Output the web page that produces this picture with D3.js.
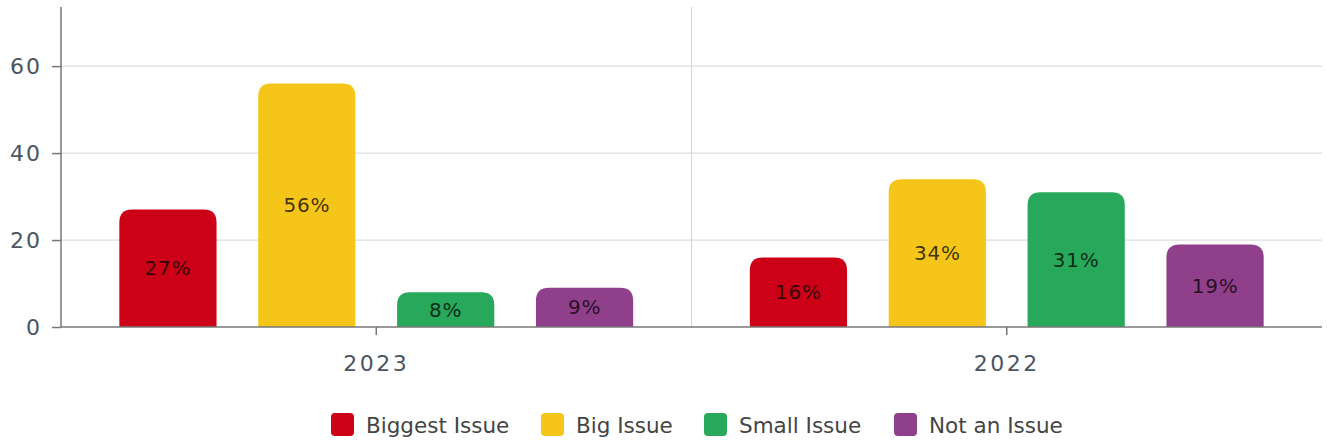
<!DOCTYPE html>
<html>
<head>
<meta charset="utf-8">
<script src="https://cdn.jsdelivr.net/npm/d3@7"></script>
<style>
  body { margin: 0; background: #fff; }
  text { font-family: "DejaVu Sans", "Noto Sans", sans-serif; }
</style>
</head>
<body>
<div id="chart"></div>
<script>
  // data
  const years = ["2023", "2022"];
  const series = ["Biggest Issue", "Big Issue", "Small Issue", "Not an Issue"];
  const biggestIssue = [27, 16];
  const bigIssue = [56, 34];
  const smallIssue = [8, 31];
  const notAnIssue = [9, 19];
  const yTicks = [0, 20, 40, 60];
  const colors = ["#cc0016", "#f5c619", "#28a85b", "#903f8a"];

  const values = [biggestIssue, bigIssue, smallIssue, notAnIssue];

  const width = 1327, height = 444;
  const margin = {top: 7, right: 5, bottom: 117, left: 61};
  const innerW = width - margin.left - margin.right;
  const innerH = height - margin.top - margin.bottom;

  const svg = d3.select("#chart")
    .append("svg")
    .attr("width", width)
    .attr("height", height)
    .append("g")
    .attr("transform", `translate(${margin.left},${margin.top})`);

  const x0 = d3.scaleBand().domain(years).range([0, innerW]);
  const x1 = d3.scaleBand().domain(series).range([0, x0.bandwidth()])
    .paddingInner(0.3).paddingOuter(0.42);
  const y = d3.scaleLinear().domain([0, 73.6]).range([innerH, 0]);

  // gridlines
  svg.selectAll(".grid")
    .data(yTicks.slice(1))
    .join("line")
    .attr("x1", 0).attr("x2", innerW)
    .attr("y1", d => y(d)).attr("y2", d => y(d))
    .attr("stroke", "#dedede").attr("stroke-width", 1.2);

  // vertical separator between categories
  svg.append("line")
    .attr("x1", x0("2022")).attr("x2", x0("2022"))
    .attr("y1", 0).attr("y2", innerH)
    .attr("stroke", "#d4d4d4").attr("stroke-width", 1);

  // bars with rounded tops
  function topRounded(x, yTop, w, h, r) {
    r = Math.min(r, h, w / 2);
    return `M${x},${yTop + h}V${yTop + r}Q${x},${yTop} ${x + r},${yTop}` +
      `H${x + w - r}Q${x + w},${yTop} ${x + w},${yTop + r}V${yTop + h}Z`;
  }

  const groups = svg.selectAll(".year")
    .data(years)
    .join("g")
    .attr("transform", d => `translate(${x0(d)},0)`);

  groups.each(function(yr, i) {
    const g = d3.select(this);
    series.forEach((s, j) => {
      const v = values[j][i];
      const bx = x1(s), bw = x1.bandwidth();
      g.append("path")
        .attr("d", topRounded(bx, y(v), bw, innerH - y(v), 13))
        .attr("fill", colors[j]);
      g.append("text")
        .attr("x", bx + bw / 2)
        .attr("y", (y(v) + innerH) / 2)
        .attr("dy", "0.35em")
        .attr("text-anchor", "middle")
        .style("font-size", "20px")
        .style("letter-spacing", "0.8px")
        .attr("fill", "rgba(0,0,0,0.75)")
        .text(v + "%");
    });
  });

  // y axis
  const yAxis = svg.append("g")
    .call(d3.axisLeft(y).tickValues(yTicks).tickSize(9).tickPadding(10));
  yAxis.select(".domain").attr("stroke", "#777").attr("stroke-width", 1.5)
    .attr("d", `M0,0V${innerH}`);
  yAxis.selectAll(".tick line").attr("stroke", "#777").attr("stroke-width", 1.5);
  yAxis.selectAll(".tick text").style("font-size", "22px")
    .style("letter-spacing", "2px").attr("fill", "#4b5561");

  // x axis
  const xAxis = svg.append("g")
    .attr("transform", `translate(0,${innerH})`)
    .call(d3.axisBottom(x0).tickSize(8).tickPadding(20));
  xAxis.select(".domain").attr("stroke", "#777").attr("stroke-width", 1.5)
    .attr("d", `M0,0H${innerW}`);
  xAxis.selectAll(".tick line").attr("stroke", "#777").attr("stroke-width", 1.5);
  xAxis.selectAll(".tick text").style("font-size", "22px")
    .style("letter-spacing", "2.5px").attr("fill", "#4b5561");

  // legend
  const legendX = [331, 541, 704, 894];
  const legend = d3.select("svg").append("g");
  series.forEach((s, j) => {
    const lg = legend.append("g").attr("transform", `translate(${legendX[j]},413)`);
    lg.append("rect")
      .attr("width", 23).attr("height", 23).attr("rx", 4)
      .attr("fill", colors[j]);
    lg.append("text")
      .attr("x", 35).attr("y", 12).attr("dy", "0.35em")
      .style("font-size", "21.5px")
      .attr("fill", "#444")
      .text(s);
  });
</script>
</body>
</html>
